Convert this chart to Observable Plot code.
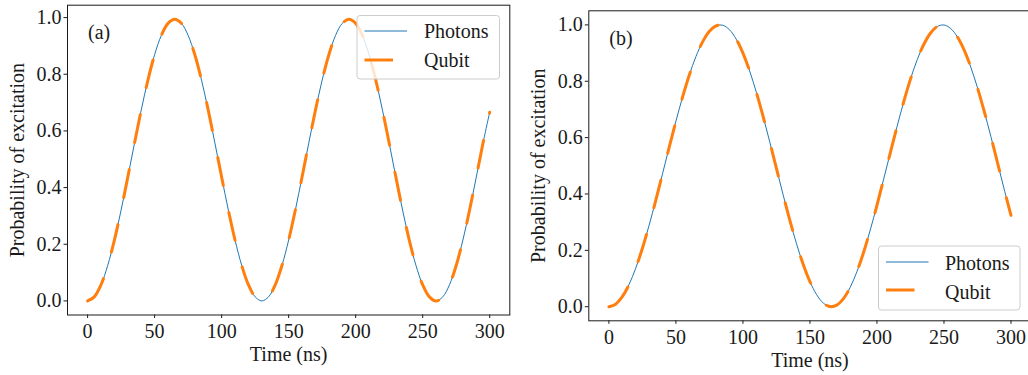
<!DOCTYPE html>
<html>
<head>
<meta charset="utf-8">
<script src="https://cdn.jsdelivr.net/npm/d3@7"></script>
<script src="https://cdn.jsdelivr.net/npm/@observablehq/plot@0.6"></script>
<style>
  html, body { margin: 0; padding: 0; background: #fff; overflow: hidden; }
  #wrap { position: relative; width: 1028px; height: 375px; overflow: hidden; background: #fff; }
  #wrap > .panel { position: absolute; top: 0; }
  #legend { position: absolute; left: 0; top: 0; pointer-events: none; }
</style>
</head>
<body>
<div id="wrap"></div>
<script>
// ---- data ----
const timeNs = [0,5,10,15,20,25,30,35,40,45,50,55,60,65,70,75,80,85,90,95,100,105,110,115,120,125,130,135,140,145,150,155,160,165,170,175,180,185,190,195,200,205,210,215,220,225,230,235,240,245,250,255,260,265,270,275,280,285,290,295,300];

const photonsA = [0,0.0144,0.0569,0.1250,0.2147,0.3208,0.4371,0.5569,0.6732,0.7793,0.8690,0.9371,0.9796,0.9940,0.9796,0.9371,0.8690,0.7793,0.6732,0.5569,0.4371,0.3208,0.2147,0.1250,0.0569,0.0144,0,0.0144,0.0569,0.1250,0.2147,0.3208,0.4371,0.5569,0.6732,0.7793,0.8690,0.9371,0.9796,0.9940,0.9796,0.9371,0.8690,0.7793,0.6732,0.5569,0.4371,0.3208,0.2147,0.1250,0.0569,0.0144,0,0.0144,0.0569,0.1250,0.2147,0.3208,0.4371,0.5569,0.6660];
const qubitA   = [0,0.0144,0.0569,0.1250,0.2147,0.3208,0.4371,0.5569,0.6732,0.7793,0.8690,0.9371,0.9796,0.9940,0.9796,0.9371,0.8690,0.7793,0.6732,0.5569,0.4371,0.3208,0.2147,0.1250,0.0569,0.0144,0,0.0144,0.0569,0.1250,0.2147,0.3208,0.4371,0.5569,0.6732,0.7793,0.8690,0.9371,0.9796,0.9940,0.9796,0.9371,0.8690,0.7793,0.6732,0.5569,0.4371,0.3208,0.2147,0.1250,0.0569,0.0144,0,0.0144,0.0569,0.1250,0.2147,0.3208,0.4371,0.5569,0.6660];

const photonsB = [0,0.0089,0.0354,0.0784,0.1365,0.2076,0.2891,0.3782,0.4716,0.5660,0.6581,0.7445,0.8222,0.8884,0.9407,0.9773,0.9968,0.9986,0.9826,0.9493,0.9000,0.8365,0.7609,0.6759,0.5848,0.4906,0.3969,0.3064,0.2232,0.1498,0.0889,0.0427,0.0128,0.0004,0.0057,0.0287,0.0686,0.1238,0.1925,0.2722,0.3600,0.4527,0.5470,0.6395,0.7278,0.8076,0.8762,0.9315,0.9713,0.9943,0.9996,0.9872,0.9573,0.9111,0.8502,0.7767,0.6935,0.6035,0.5099,0.4152,0.3240];
const qubitB   = [0,0.0089,0.0354,0.0784,0.1365,0.2076,0.2891,0.3782,0.4716,0.5660,0.6581,0.7445,0.8222,0.8884,0.9407,0.9773,0.9968,0.9986,0.9826,0.9493,0.9000,0.8365,0.7609,0.6759,0.5848,0.4906,0.3969,0.3064,0.2232,0.1498,0.0889,0.0427,0.0128,0.0004,0.0057,0.0287,0.0686,0.1238,0.1925,0.2722,0.3600,0.4527,0.5470,0.6395,0.7278,0.8076,0.8762,0.9315,0.9713,0.9943,0.9996,0.9872,0.9573,0.9111,0.8502,0.7767,0.6935,0.6035,0.5099,0.4152,0.3240];

const xTicks = [0, 50, 100, 150, 200, 250, 300];
const yTicks = [0.0, 0.2, 0.4, 0.6, 0.8, 1.0];
const panelLabels = ["(a)", "(b)"];
const seriesNames = ["Photons", "Qubit"];
const xLabel = "Time (ns)";
const yLabel = "Probability of excitation";

// ---- styling ----
const FONT = "'Liberation Serif', 'DejaVu Serif', serif";
const INK = "#1a1a1a";
const BLUE = "#1f77b4";
const ORANGE = "#ff7f0e";
const DASH = "28.5,27.5";

function rows(ph, qb) {
  return timeNs.map((t, i) => ({t, photons: ph[i], qubit: qb[i]}));
}

function panel({data, label, width, marginLeft, marginRight, marginTop, marginBottom, yDomain}) {
  return Plot.plot({
    width, height: 375,
    marginLeft, marginRight, marginTop, marginBottom,
    style: {fontFamily: FONT, fontSize: "20px", color: INK, background: "transparent", overflow: "visible"},
    x: {domain: [-15, 315]},
    y: {domain: yDomain},
    marks: [
      Plot.axisX({ticks: xTicks, tickSize: 3.5, tickPadding: 5, stroke: INK, strokeWidth: 1,
        label: xLabel, labelAnchor: "center", labelArrow: "none", labelOffset: 46}),
      Plot.axisY({ticks: yTicks, tickFormat: d3.format(".1f"), tickSize: 3.5, tickPadding: 2.5, stroke: INK, strokeWidth: 1,
        label: yLabel, labelAnchor: "center", labelArrow: "none", labelOffset: 58}),
      Plot.line(data, {x: "t", y: "photons", stroke: BLUE, strokeWidth: 1, curve: "catmull-rom"}),
      Plot.line(data, {x: "t", y: "qubit", stroke: ORANGE, strokeWidth: 3, strokeDasharray: DASH, curve: "catmull-rom"}),
      Plot.text([label], {frameAnchor: "top-left", dx: 20.5, dy: 20, textAnchor: "start", lineAnchor: "top", fontSize: 20, fill: INK}),
      Plot.frame({stroke: INK, strokeWidth: 1})
    ]
  });
}

const wrap = document.getElementById("wrap");

const pA = panel({data: rows(photonsA, qubitA), label: panelLabels[0], width: 520,
  marginLeft: 67, marginRight: 10.7, marginTop: 4.7, marginBottom: 60.5, yDomain: [-0.0497, 1.0437]});
pA.classList.add("panel"); pA.style.left = "0px";
wrap.appendChild(pA);

const pB = panel({data: rows(photonsB, qubitB), label: panelLabels[1], width: 512,
  marginLeft: 68.3, marginRight: 1.4, marginTop: 10.3, marginBottom: 54.7, yDomain: [-0.05, 1.05]});
pB.classList.add("panel"); pB.style.left = "520px";
wrap.appendChild(pB);

// ---- legends (matplotlib-style boxes) ----
const legendBoxes = [
  {x: 357, y: 15.5, w: 142.5, h: 63.5, lx0: 364.5, lx1: 407, ly: [31, 60], tx: 424, ty: [38.3, 67]},
  {x: 878.5, y: 246, w: 141.5, h: 64, lx0: 886, lx1: 928.5, ly: [262, 290], tx: 945, ty: [269.5, 298.5]}
];
const svg = d3.select(wrap).append("svg").attr("id", "legend").attr("width", 1028).attr("height", 375);
for (const b of legendBoxes) {
  const g = svg.append("g");
  g.append("rect").attr("x", b.x).attr("y", b.y).attr("width", b.w).attr("height", b.h)
    .attr("rx", 3).attr("fill", "white").attr("fill-opacity", 0.8).attr("stroke", "#cccccc").attr("stroke-width", 1);
  g.append("line").attr("x1", b.lx0).attr("x2", b.lx1).attr("y1", b.ly[0]).attr("y2", b.ly[0])
    .attr("stroke", BLUE).attr("stroke-width", 1);
  g.append("line").attr("x1", b.lx0).attr("x2", b.lx1).attr("y1", b.ly[1]).attr("y2", b.ly[1])
    .attr("stroke", ORANGE).attr("stroke-width", 3).attr("stroke-dasharray", DASH);
  seriesNames.forEach((name, i) => {
    g.append("text").attr("x", b.tx).attr("y", b.ty[i]).attr("fill", INK)
      .attr("font-family", FONT).attr("font-size", 20).text(name);
  });
}
</script>
</body>
</html>
